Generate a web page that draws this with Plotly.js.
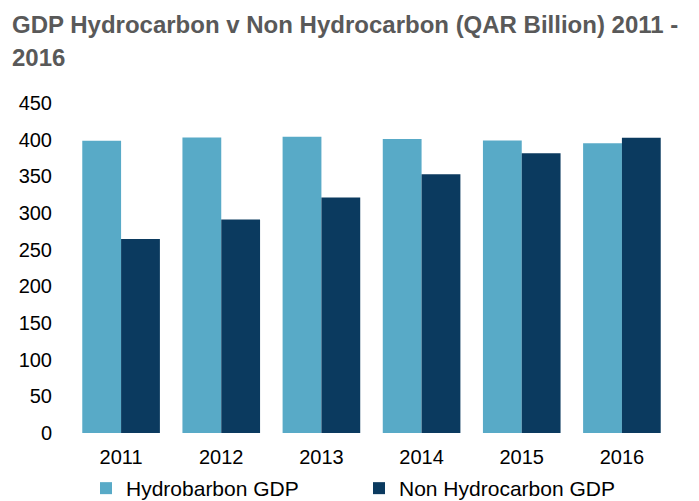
<!DOCTYPE html>
<html>
<head>
<meta charset="utf-8">
<script src="https://cdn.plot.ly/plotly-3.0.1.min.js"></script>
<style>html,body{margin:0;padding:0;background:#fff;}#chart{width:699px;height:501px;}</style>
</head>
<body>
<div id="chart"></div>
<script>
var years = ['2011', '2012', '2013', '2014', '2015', '2016'];
var hydrocarbonGDP = [398.5, 403, 404, 401, 399, 395];
var nonHydrocarbonGDP = [264.5, 291, 321, 353, 381.5, 402.5];
var seriesNames = ['Hydrobarbon GDP', 'Non Hydrocarbon GDP'];
var yTicks = [0, 50, 100, 150, 200, 250, 300, 350, 400, 450];
var titleLine1 = 'GDP Hydrocarbon v Non Hydrocarbon (QAR Billion) 2011 -';
var titleLine2 = '2016';

var traces = [
  {type: 'bar', name: seriesNames[0], x: years, y: hydrocarbonGDP,
   marker: {color: '#58AAC7', line: {width: 0}}, hoverinfo: 'y'},
  {type: 'bar', name: seriesNames[1], x: years, y: nonHydrocarbonGDP,
   marker: {color: '#0B3A5F', line: {width: 0}}, hoverinfo: 'y'}
];

var font = 'Liberation Sans, Arial, sans-serif';
var layout = {
  width: 699, height: 501,
  margin: {l: 71, r: 27, t: 103, b: 68, autoexpand: false},
  paper_bgcolor: '#ffffff', plot_bgcolor: '#ffffff',
  barmode: 'group', bargap: 0.225, bargroupgap: 0,
  font: {family: font, color: '#000000', size: 20},
  title: {text: '<b>' + titleLine1 + '</b>', x: 12/699, xref: 'container', xanchor: 'left',
          y: 1 - 25/501, yref: 'container', yanchor: 'middle',
          font: {family: font, size: 24, color: '#595959'}},
  annotations: [{text: '<b>' + titleLine2 + '</b>', xref: 'paper', yref: 'paper',
                 x: (10 - 71) / 601, y: (433 - 57) / 330, xanchor: 'left', yanchor: 'middle',
                 showarrow: false, font: {family: font, size: 24, color: '#595959'}}],
  xaxis: {type: 'category', showgrid: false, zeroline: false, showline: false,
          ticks: 'outside', ticklen: 6, tickcolor: 'rgba(0,0,0,0)',
          tickfont: {family: font, size: 20, color: '#000000'}},
  yaxis: {range: [0, 450], tickvals: yTicks, showgrid: false, zeroline: false, showline: false,
          ticks: 'outside', ticklen: 14, tickcolor: 'rgba(0,0,0,0)',
          tickfont: {family: font, size: 20, color: '#000000'}},
  showlegend: true,
  legend: {orientation: 'h', x: (86 - 71) / 601, xanchor: 'left', y: (433 - 468) / 330, yanchor: 'top',
           entrywidth: 228, entrywidthmode: 'pixels',
           font: {family: font, size: 21, color: '#000000'}, bgcolor: 'rgba(0,0,0,0)'}
};

Plotly.newPlot('chart', traces, layout, {displayModeBar: false, staticPlot: true});
</script>
</body>
</html>
